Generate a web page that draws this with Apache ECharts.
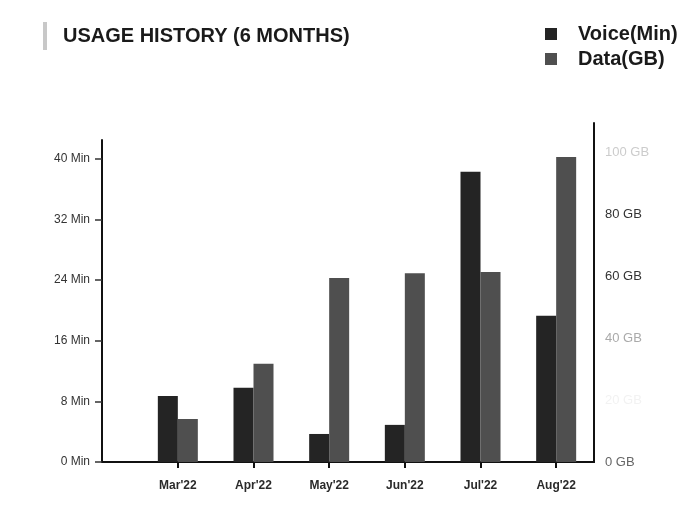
<!DOCTYPE html>
<html>
<head>
<meta charset="utf-8">
<script src="https://cdn.jsdelivr.net/npm/echarts@6/dist/echarts.min.js"></script>
<style>
html,body{margin:0;padding:0;background:#fff;}
#chart{width:683px;height:522px;}
</style>
</head>
<body>
<div id="chart"></div>
<script>
var months = ["Mar'22", "Apr'22", "May'22", "Jun'22", "Jul'22", "Aug'22"];
var voiceMin = [8.7, 9.8, 3.7, 4.9, 38.3, 19.3];
var dataGB = [13.9, 31.7, 59.4, 61.0, 61.4, 98.5];
var minTicks = [0, 8, 16, 24, 32, 40];
var gbTicks = [0, 20, 40, 60, 80, 100];
var gbLabelColors = {0: '#666', 20: '#f2f2f2', 40: '#aaa', 60: '#333', 80: '#333', 100: '#ccc'};

var font = 'Liberation Sans, Arial, sans-serif';
var chart = echarts.init(document.getElementById('chart'), null, {renderer: 'canvas'});
chart.setOption({
  backgroundColor: '#ffffff',
  animation: false,
  title: {
    text: 'USAGE HISTORY (6 MONTHS)',
    left: 63, top: 26, padding: 0,
    textStyle: {fontFamily: font, fontSize: 20, fontWeight: 'bold', color: '#1a1a1a'}
  },
  graphic: [{
    type: 'rect', left: 43, top: 22,
    shape: {width: 4, height: 28},
    style: {fill: '#c8c8c8'}
  }],
  legend: {
    orient: 'vertical', left: 545, top: 24, padding: 0,
    itemWidth: 12, itemHeight: 12, itemGap: 5, icon: 'rect',
    textStyle: {fontFamily: font, fontSize: 20, fontWeight: 'bold', color: '#1a1a1a', padding: [0, 0, 0, 16]},
    data: ['Voice(Min)', 'Data(GB)']
  },
  grid: [
    {left: 140, right: 89, top: 140, bottom: 60},
    {left: 102, right: 89, top: 140, bottom: 60},
    {left: 140, right: 89, top: 123, bottom: 60}
  ],
  xAxis: [
    {
      type: 'category', gridIndex: 0, data: months,
      axisLine: {show: true, onZero: false, lineStyle: {color: '#111', width: 2}},
      axisTick: {show: true, alignWithLabel: true, length: 6, lineStyle: {color: '#111', width: 2}},
      axisLabel: {margin: 18, fontFamily: font, fontSize: 12, fontWeight: 'bold', color: '#2a2a2a'},
      splitLine: {show: false}
    },
    {
      type: 'value', gridIndex: 1, min: 0, max: 1,
      axisLine: {show: true, onZero: false, lineStyle: {color: '#111', width: 2}},
      axisTick: {show: false}, axisLabel: {show: false}, splitLine: {show: false}
    },
    {type: 'value', gridIndex: 2, show: false, min: 0, max: 1}
  ],
  yAxis: [
    {
      type: 'value', gridIndex: 0, position: 'left', offset: 38,
      min: 0, max: 42.5,
      axisLine: {show: true, onZero: false, lineStyle: {color: '#111', width: 2}},
      axisTick: {show: true, length: 7, customValues: minTicks, lineStyle: {color: '#333', width: 1.5}},
      axisLabel: {customValues: minTicks, margin: 12, fontFamily: font, fontSize: 12, color: '#333',
        formatter: function (v) { return v + ' Min'; }},
      splitLine: {show: false}
    },
    {
      type: 'value', gridIndex: 0, position: 'right', show: false,
      min: 0, max: 104
    },
    {type: 'value', gridIndex: 1, show: false, min: 0, max: 1},
    {
      type: 'value', gridIndex: 2, position: 'right',
      min: 0, max: 109.6,
      axisLine: {show: true, onZero: false, lineStyle: {color: '#111', width: 2}},
      axisTick: {show: false},
      axisLabel: {customValues: gbTicks, margin: 11, fontFamily: font, fontSize: 13,
        color: function (v) { return gbLabelColors[Number(v)] || '#444'; },
        formatter: function (v) { return v + ' GB'; }},
      splitLine: {show: false}
    }
  ],
  series: [
    {
      name: 'Voice(Min)', type: 'bar', xAxisIndex: 0, yAxisIndex: 0,
      data: voiceMin, barWidth: 20, barGap: '0%',
      itemStyle: {color: '#242424'}
    },
    {
      name: 'Data(GB)', type: 'bar', xAxisIndex: 0, yAxisIndex: 1,
      data: dataGB, barWidth: 20, barGap: '0%',
      itemStyle: {color: '#4f4f4f'}
    }
  ]
});
</script>
</body>
</html>
